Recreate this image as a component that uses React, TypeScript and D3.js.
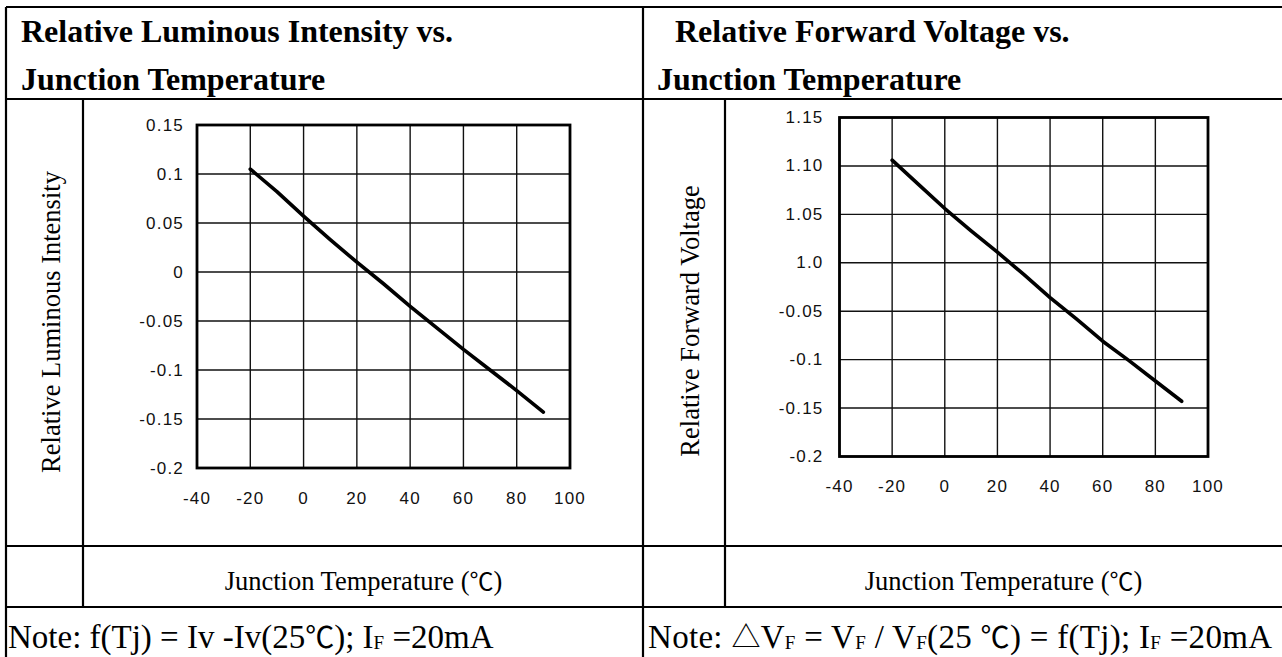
import React from "react";
import * as d3 from "d3";

// ---- data ----
const xTicks = [-40, -20, 0, 20, 40, 60, 80, 100];
const temps = [-20, -10, 0, 10, 20, 30, 40, 50, 60, 70, 80, 90];
const lumValues = [0.105, 0.082, 0.057, 0.033, 0.01, -0.012, -0.035, -0.057, -0.079, -0.1, -0.121, -0.143];
const lumTicks = [0.15, 0.1, 0.05, 0, -0.05, -0.1, -0.15, -0.2];
const lumTickLabels = ["0.15", "0.1", "0.05", "0", "-0.05", "-0.1", "-0.15", "-0.2"];
const vfValues = [1.106, 1.081, 1.056, 1.033, 1.011, 0.988, 0.964, 0.942, 0.919, 0.899, 0.878, 0.857];
const vfTicks = [1.15, 1.1, 1.05, 1.0, 0.95, 0.9, 0.85, 0.8];
const vfTickLabels = ["1.15", "1.10", "1.05", "1.0", "-0.05", "-0.1", "-0.15", "-0.2"];

const W = 1282;
const H = 657;
const SERIF = "'Liberation Serif', 'Times New Roman', serif";
const TICKFONT = "'Liberation Sans Narrow', 'Arial Narrow', 'Liberation Sans', sans-serif";
const CJK = "'Noto Sans CJK SC', 'Noto Sans', sans-serif";

type ChartProps = {
  left: number; right: number; top: number; bottom: number;
  yDomain: [number, number]; yTicks: number[]; yLabels: string[]; values: number[]; labelGap: number;
};

function Chart({ left, right, top, bottom, yDomain, yTicks, yLabels, values, labelGap }: ChartProps) {
  const x = d3.scaleLinear().domain([-40, 100]).range([left, right]);
  const y = d3.scaleLinear().domain(yDomain).range([bottom, top]);
  const line = d3.line<number>().x((_, i) => x(temps[i])).y((v) => y(v));
  return (
    <g>
      {xTicks.map((t) => (
        <line key={"gx" + t} x1={x(t)} x2={x(t)} y1={top} y2={bottom} stroke="#111" strokeWidth={1.4} />
      ))}
      {yTicks.map((t) => (
        <line key={"gy" + t} x1={left} x2={right} y1={y(t)} y2={y(t)} stroke="#111" strokeWidth={1.4} />
      ))}
      <rect x={left} y={top} width={right - left} height={bottom - top} fill="none" stroke="#000" strokeWidth={2.8} />
      <path d={line(values) || ""} fill="none" stroke="#000" strokeWidth={3.6} strokeLinejoin="round" strokeLinecap="round" />
      {yTicks.map((t, i) => (
        <text key={"ly" + t} x={left - labelGap} y={y(t)} textAnchor="end" dominantBaseline="central"
          fontFamily={TICKFONT} fontSize={17} letterSpacing={1.2} fill="#111">{yLabels[i]}</text>
      ))}
      {xTicks.map((t) => (
        <text key={"lx" + t} x={x(t)} y={bottom + 30} textAnchor="middle" dominantBaseline="central"
          fontFamily={TICKFONT} fontSize={17} letterSpacing={1.2} fill="#111">{String(t)}</text>
      ))}
    </g>
  );
}

export default function App() {
  const lw = 2.2;
  const sub = 19;
  return (
    <div style={{ position: "absolute", left: 0, top: 0, width: W, height: H, background: "#fff" }}>
      <svg width={W} height={H} viewBox={`0 0 ${W} ${H}`} style={{ display: "block" }}>
        <rect x={0} y={0} width={W} height={H} fill="#fff" />
        {/* table lines */}
        <g stroke="#000" strokeWidth={lw}>
          <line x1={6} x2={W} y1={7} y2={7} />
          <line x1={6} x2={6} y1={7} y2={H} />
          <line x1={6} x2={W} y1={99} y2={99} />
          <line x1={6} x2={W} y1={546} y2={546} />
          <line x1={6} x2={W} y1={607} y2={607} />
          <line x1={643} x2={643} y1={7} y2={H} />
          <line x1={83} x2={83} y1={99} y2={607} />
          <line x1={725} x2={725} y1={99} y2={607} />
        </g>
        {/* titles */}
        <g fontFamily={SERIF} fontWeight="bold" fontSize={32} fill="#000">
          <text x={21} y={42}>Relative Luminous Intensity vs.</text>
          <text x={21} y={90}>Junction Temperature</text>
          <text x={675} y={42}>Relative Forward Voltage vs.</text>
          <text x={657} y={90}>Junction Temperature</text>
        </g>
        {/* axis titles */}
        <g fontFamily={SERIF} fontSize={26.5} fill="#000">
          <text transform="translate(60,322) rotate(-90)" textAnchor="middle">Relative Luminous Intensity</text>
          <text transform="translate(699,321) rotate(-90)" textAnchor="middle">Relative Forward Voltage</text>
          <text x={363.5} y={590} textAnchor="middle">Junction Temperature (<tspan fontFamily={CJK} fontSize={24}>℃</tspan>)</text>
          <text x={1003.5} y={590} textAnchor="middle">Junction Temperature (<tspan fontFamily={CJK} fontSize={24}>℃</tspan>)</text>
        </g>
        <Chart left={197} right={570} top={125} bottom={468} yDomain={[-0.2, 0.15]}
          yTicks={lumTicks} yLabels={lumTickLabels} values={lumValues} labelGap={13} />
        <Chart left={839.5} right={1208} top={117.5} bottom={456.5} yDomain={[0.8, 1.15]}
          yTicks={vfTicks} yLabels={vfTickLabels} values={vfValues} labelGap={16} />
        {/* notes */}
        <g fontFamily={SERIF} fontSize={33} fill="#000">
          <text x={8} y={648}>
            Note: f(Tj) = Iv -Iv(25<tspan fontFamily={CJK} fontSize={29}>℃</tspan>); I<tspan fontSize={sub} dy={1}>F</tspan><tspan dy={-1}> =20mA</tspan>
          </text>
          <text x={648} y={648} letterSpacing={0.3}>
            Note: <tspan fontFamily={CJK} fontSize={29}>△</tspan>V<tspan fontSize={sub} dy={1}>F</tspan><tspan dy={-1}> = V</tspan><tspan fontSize={sub} dy={1}>F</tspan><tspan dy={-1}> / V</tspan><tspan fontSize={sub} dy={1}>F</tspan><tspan dy={-1}>(25 </tspan><tspan fontFamily={CJK} fontSize={29}>℃</tspan>) = f(Tj); I<tspan fontSize={sub} dy={1}>F</tspan><tspan dy={-1}> =20mA</tspan>
          </text>
        </g>
      </svg>
    </div>
  );
}
